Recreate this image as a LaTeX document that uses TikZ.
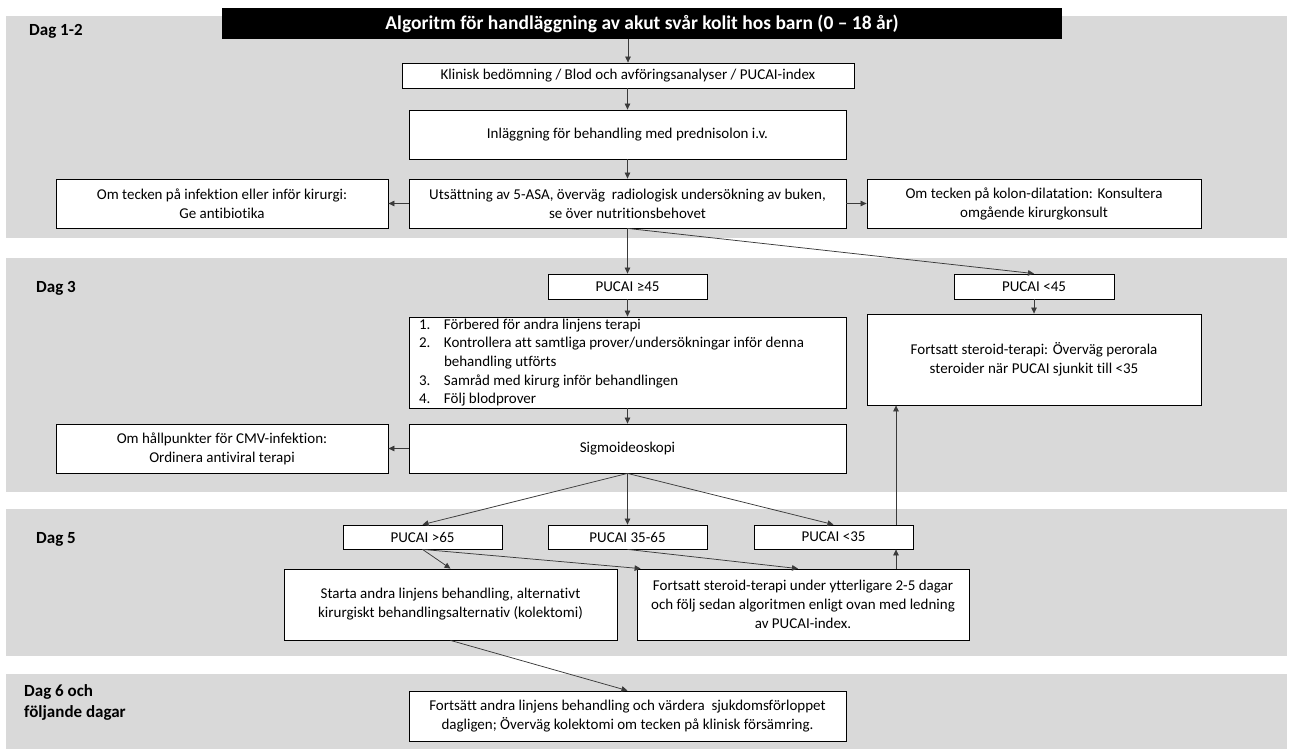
\documentclass[tikz,border=0pt]{standalone}
\usepackage{fontspec}
\setmainfont{Carlito}[Ligatures={NoCommon}]
\usetikzlibrary{arrows.meta}
\definecolor{bandgray}{HTML}{D9D9D9}
\definecolor{linegray}{HTML}{3A3A3A}
\tikzset{
  box/.style={draw=black, line width=0.8pt, fill=white, inner sep=0pt, align=center,
    font=\fontsize{15}{19}\selectfont},
  arr/.style={draw=linegray, line width=0.75pt, -{Triangle[length=6pt,width=5.5pt]}},
  daglabel/.style={font=\bfseries\fontsize{17}{21}\selectfont, anchor=west, align=left, inner sep=0pt},
  band/.style={fill=bandgray, draw=none}
}
\begin{document}
\begin{tikzpicture}[x=1pt,y=-1pt]
\useasboundingbox (0,0) rectangle (1301,749);
% bands
\fill[band] (6,16) rectangle (1287,238);
\fill[band] (6,258) rectangle (1287,492);
\fill[band] (6,509) rectangle (1287,656);
\fill[band] (6,674) rectangle (1287,749);
% day labels
\node[daglabel] (d12) at (29,31) {Dag 1-2};
\node[daglabel] (d3) at (36,288) {Dag 3};
\node[daglabel] (d5) at (36,539) {Dag 5};
\node[daglabel] (d6) at (24,702) {Dag 6 och\\följande dagar};
% title
\node[fill=black, text=white, inner sep=0pt, minimum width=840pt, minimum height=31pt,
  font=\bfseries\fontsize{19.5}{22}\selectfont] (title) at (642,23.5)
  {Algoritm för handläggning av akut svår kolit hos barn (0 – 18 år)};
% day 1-2
\node[box, minimum width=452pt, minimum height=25pt] (klin) at (628,75.5)
  {Klinisk bedömning / Blod och avföringsanalyser / PUCAI-index};
\node[box, minimum width=437pt, minimum height=49pt] (inl) at (627.5,134.5)
  {Inläggning för behandling med prednisolon i.v.};
\node[box, minimum width=437pt, minimum height=49pt] (uts) at (627.5,203.5)
  {Utsättning av 5-ASA, överväg \ radiologisk undersökning av buken,\\se över nutritionsbehovet};
\node[box, minimum width=332pt, minimum height=49pt] (inf) at (222,203.5)
  {Om tecken på infektion eller inför kirurgi:\\Ge antibiotika};
\node[box, minimum width=334pt, minimum height=49pt] (dil) at (1034,203.5)
  {Om tecken på kolon-dilatation: Konsultera\\omgående kirurgkonsult};
% day 3
\node[box, minimum width=159pt, minimum height=25pt] (pa) at (627.5,286.5) {PUCAI ≥45};
\node[box, minimum width=160pt, minimum height=25pt] (pb) at (1034,286.5) {PUCAI <45};
\node[box, minimum width=437pt, minimum height=91pt, align=flush left, text width=417pt,
  font=\fontsize{15}{18.7}\selectfont] (lst) at (627.5,362.5)
  {\makebox[25pt][l]{1.}Förbered för andra linjens terapi\\
   \makebox[25pt][l]{2.}Kontrollera att samtliga prover/undersökningar inför denna\\
   \hspace*{25pt}behandling utförts\\
   \makebox[25pt][l]{3.}Samråd med kirurg inför behandlingen\\
   \makebox[25pt][l]{4.}Följ blodprover};
\node[box, minimum width=334pt, minimum height=91pt] (ster) at (1034,359.5)
  {Fortsatt steroid-terapi: Överväg perorala\\steroider när PUCAI sjunkit till <35};
\node[box, minimum width=437pt, minimum height=49pt] (sig) at (627.5,448.5) {Sigmoideoskopi};
\node[box, minimum width=332pt, minimum height=49pt] (cmv) at (222,448.5)
  {Om hållpunkter för CMV-infektion:\\Ordinera antiviral terapi};
% day 5
\node[box, minimum width=159pt, minimum height=24pt] (p65) at (422.5,537) {PUCAI >65};
\node[box, minimum width=159pt, minimum height=24pt] (pmid) at (627.5,537) {PUCAI 35-65};
\node[box, minimum width=159pt, minimum height=24pt] (p35) at (833.5,537) {PUCAI <35};
\node[box, minimum width=333pt, minimum height=71pt] (sta) at (450.5,604.5)
  {Starta andra linjens behandling, alternativt\\kirurgiskt behandlingsalternativ (kolektomi)};
\node[box, minimum width=332pt, minimum height=71pt] (f2) at (803,604.5)
  {Fortsatt steroid-terapi under ytterligare 2-5 dagar\\och följ sedan algoritmen enligt ovan med ledning\\av PUCAI-index.};
% day 6
\node[box, minimum width=437pt, minimum height=50pt] (fa) at (627.5,716)
  {Fortsätt andra linjens behandling och värdera \ sjukdomsförloppet\\dagligen; Överväg kolektomi om tecken på klinisk försämring.};
% helper coordinate
\coordinate (upx) at (896,0);
% connectors
\draw[arr] (title.south -| klin.north) -- (klin.north);
\draw[arr] (klin.south -| inl.north) -- (inl.north);
\draw[arr] (inl.south) -- (uts.north);
\draw[arr] (uts.west) -- (inf.east);
\draw[arr] (uts.east) -- (dil.west);
\draw[arr] (uts.south) -- (pa.north);
\draw[arr] (uts.south) -- (pb.north);
\draw[arr] (pb.south) -- (ster.north);
\draw[arr] (pa.south) -- (lst.north);
\draw[arr] (lst.south) -- (sig.north);
\draw[arr] (sig.west) -- (cmv.east);
\draw[arr] (sig.south) -- (p65.north);
\draw[arr] (sig.south) -- (pmid.north);
\draw[arr] (sig.south) -- (p35.north);
\draw[arr] (p65.south) -- (sta.north);
\draw[arr] (p65.south) -- ([xshift=4pt]f2.north west);
\draw[arr] (pmid.south) -- ([xshift=-5pt]f2.north);
\draw[arr] (f2.north -| upx) -- (p35.south -| upx);
\draw[arr] (p35.north -| upx) -- (ster.south -| upx);
\draw[arr] (sta.south) -- (fa.north);
\end{tikzpicture}
\end{document}
